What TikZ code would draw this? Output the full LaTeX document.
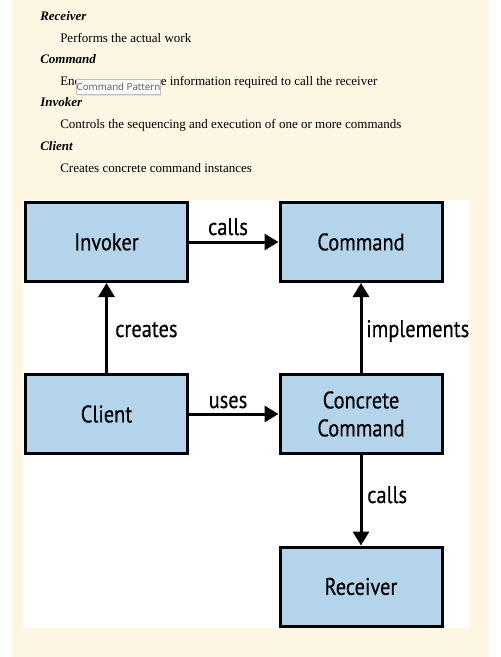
\documentclass[tikz,border=0pt]{standalone}
\usepackage{fontspec}
\setmainfont{Liberation Serif}
\newfontfamily\diagfont[FakeStretch=0.85,FakeBold=0.4]{PT Sans}
\newfontfamily\tipfont{Open Sans}
\usetikzlibrary{arrows.meta}
\definecolor{cream}{HTML}{FCF6E2}
\definecolor{boxblue}{HTML}{B4D4EB}
\definecolor{tipgray}{HTML}{5A5A5A}
\tikzset{
  box/.style={draw=black, line width=2.25pt, fill=boxblue, minimum width=121.5pt, minimum height=59.25pt, inner sep=0pt, align=center, font=\diagfont\fontsize{18pt}{21pt}\selectfont},
  conn/.style={line width=2.25pt, -{Triangle[length=10.5pt,width=12pt]}},
  lab/.style={inner sep=0pt, font=\diagfont\fontsize{18pt}{21pt}\selectfont},
  head/.style={inner sep=0pt, anchor=base west, font=\fontsize{9.75pt}{12pt}\selectfont\bfseries\itshape},
  body/.style={inner sep=0pt, anchor=base west, font=\fontsize{9.75pt}{12pt}\selectfont},
  tipbox/.style={draw=black!25, fill=black!2, inner sep=0pt, minimum width=61pt, minimum height=11.25pt, text=tipgray, font=\tipfont\fontsize{7.3pt}{8pt}\selectfont},
}
\begin{document}
\begin{tikzpicture}[x=0.75pt,y=-0.75pt]
\useasboundingbox (0,0) rectangle (500,657);
\fill[white] (0,0) rectangle (500,657);
\fill[cream] (12,0) rectangle (489,657);
\fill[white] (23,200) rectangle (470,628);
% description text
\node[head] (t1) at (40,20) {Receiver};
\node[body] (t2) at (60,42) {Performs the actual work};
\node[head] (t3) at (40,63) {Command};
\node[body] (t4a) at (60,85) {Enc};
\node[body] (t4b) at (160.5,85) {e information required to call the receiver};
\node[head] (t5) at (40,106) {Invoker};
\node[body] (t6) at (60,128) {Controls the sequencing and execution of one or more commands};
\node[head] (t7) at (40,150) {Client};
\node[body] (t8) at (60,172) {Creates concrete command instances};
% tooltip
\fill[black!12] (79.5,80.5) rectangle (161,95.5);
\node[tipbox] (tip) at (118.5,86.5) {Command Pattern};
% diagram
\node[box] (inv) at (106.5,242) {Invoker};
\node[box] (cmd) at (361,242) {Command};
\node[box] (cli) at (106.5,414) {Client};
\node[box] (con) at (361,414) {Concrete\\Command};
\node[box] (rec) at (361,586.5) {Receiver};
\draw[conn] (inv) -- (cmd);
\draw[conn] (cli) -- (inv);
\draw[conn] (con) -- (cmd);
\draw[conn] (cli) -- (con);
\draw[conn] (con) -- (rec);
\node[lab, anchor=base] (l1) at (228,235) {calls};
\node[lab, anchor=base west] (l2) at (115,337) {creates};
\node[lab, anchor=base west] (l3) at (366,337) {implements};
\node[lab, anchor=base] (l4) at (228,408) {uses};
\node[lab, anchor=base west] (l5) at (367,503) {calls};
\end{tikzpicture}
\end{document}
